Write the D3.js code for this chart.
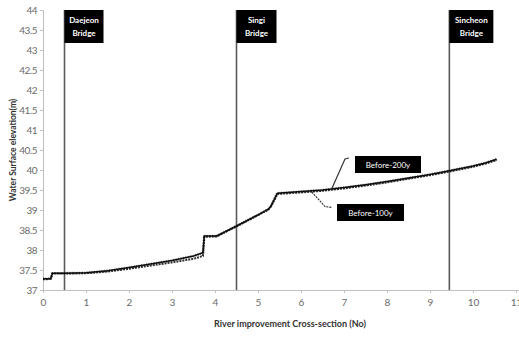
<!DOCTYPE html>
<html>
<head>
<meta charset="utf-8">
<script src="https://cdn.jsdelivr.net/npm/d3@7"></script>
<style>
  html, body { margin: 0; padding: 0; background: #fff; }
  svg { display: block; }
  text { font-family: Lato, "Open Sans", sans-serif; }
</style>
</head>
<body>
<svg id="chart" width="519" height="338"></svg>
<script>
// Cross-section positions (No) and water surface elevations (m)
const sections200 = [0, 0.1, 0.18, 0.22, 0.5, 1.0, 1.5, 2.0, 2.5, 3.0, 3.5, 3.72, 3.75, 4.04, 4.5, 5.0, 5.24, 5.3, 5.45, 6.0, 6.5, 7.0, 7.5, 8.0, 8.5, 9.0, 9.45, 10.0, 10.3, 10.55];
const before200y = [37.28, 37.28, 37.29, 37.42, 37.42, 37.43, 37.48, 37.56, 37.65, 37.74, 37.85, 37.93, 38.35, 38.35, 38.6, 38.88, 39.02, 39.1, 39.42, 39.46, 39.5, 39.56, 39.63, 39.71, 39.8, 39.89, 39.98, 40.1, 40.18, 40.27];
const sections100 = [0, 0.1, 0.18, 0.22, 0.5, 1.0, 1.5, 2.0, 2.5, 3.0, 3.5, 3.72, 3.75, 4.04, 4.5, 5.0, 5.24, 5.3, 5.45, 6.0, 6.5, 7.0, 7.5, 8.0, 8.5, 9.0, 9.45, 10.0, 10.3, 10.55];
const before100y = [37.27, 37.27, 37.28, 37.41, 37.41, 37.42, 37.46, 37.53, 37.61, 37.69, 37.78, 37.85, 38.33, 38.34, 38.59, 38.87, 39.01, 39.08, 39.4, 39.44, 39.48, 39.54, 39.61, 39.69, 39.78, 39.87, 39.96, 40.08, 40.16, 40.25];

// Bridge locations along the river
const bridgeNames = [["Daejeon", "Bridge"], ["Singi", "Bridge"], ["Sincheon", "Bridge"]];
const bridgeSections = [0.5, 4.5, 9.45];

const xTicks = [0, 1, 2, 3, 4, 5, 6, 7, 8, 9, 10, 11];
const yTicks = [37, 37.5, 38, 38.5, 39, 39.5, 40, 40.5, 41, 41.5, 42, 42.5, 43, 43.5, 44];

const svg = d3.select("#chart");
const plotLeft = 43, plotTop = 10, plotBottom = 290;

const x = d3.scaleLinear().domain([0, 12]).range([plotLeft, plotLeft + 43 * 12]);
const y = d3.scaleLinear().domain([37, 44]).range([plotBottom, plotTop]);

const axisColor = "#bfbfbf";
const labelColor = "#6b6b6b";

// Y axis
const yAxis = svg.append("g").attr("transform", `translate(${plotLeft},0)`)
  .call(d3.axisLeft(y).tickValues(yTicks).tickSize(3).tickPadding(3)
    .tickFormat(d => String(d)));
yAxis.select(".domain").attr("stroke", axisColor);
yAxis.selectAll(".tick line").attr("stroke", axisColor);
yAxis.selectAll(".tick text").attr("fill", labelColor).style("font-size", "10px")
  .style("font-family", "Lato, sans-serif").style("letter-spacing", "-0.5px");

// X axis
const xAxis = svg.append("g").attr("transform", `translate(0,${plotBottom})`)
  .call(d3.axisBottom(x).tickValues(xTicks).tickSize(3).tickPadding(6)
    .tickFormat(d => String(d)));
xAxis.select(".domain").attr("stroke", axisColor);
xAxis.selectAll(".tick line").attr("stroke", axisColor);
xAxis.selectAll(".tick text").attr("fill", labelColor).style("font-size", "10px")
  .style("font-family", "Lato, sans-serif");

// Axis titles
svg.append("text")
  .attr("x", 290).attr("y", 327)
  .attr("text-anchor", "middle")
  .attr("font-size", "9px").attr("font-weight", "bold").attr("fill", "#333")
  .text("River improvement Cross-section (No)");

svg.append("text")
  .attr("transform", "translate(16,150) rotate(-90)")
  .attr("text-anchor", "middle")
  .attr("font-size", "8.5px").attr("font-weight", "bold").attr("fill", "#333")
  .text("Water Surface elevation(m)");

// Bridge markers: vertical line with a black label box on top
const boxW = [39, 40, 44];
const bridges = svg.append("g");
bridgeSections.forEach((s, i) => {
  const bx = x(s);
  bridges.append("line")
    .attr("x1", bx).attr("x2", bx)
    .attr("y1", y(44)).attr("y2", plotBottom)
    .attr("stroke", "#5a5a5a").attr("stroke-width", 1.6);
  bridges.append("rect")
    .attr("x", bx).attr("y", y(44))
    .attr("width", boxW[i]).attr("height", 33)
    .attr("fill", "#000");
  bridgeNames[i].forEach((t, j) => {
    bridges.append("text")
      .attr("x", bx + boxW[i] / 2).attr("y", y(44) + 13 + j * 13)
      .attr("text-anchor", "middle")
      .attr("font-size", "8px").attr("font-weight", "bold").attr("fill", "#fff")
      .text(t);
  });
});

// Water surface profiles
const line = d3.line().x(d => x(d[0])).y(d => y(d[1]));
const pts100 = sections100.map((s, i) => [s, before100y[i]]);
const pts200 = sections200.map((s, i) => [s, before200y[i]]);

svg.append("path").datum(pts100)
  .attr("d", line).attr("fill", "none")
  .attr("stroke", "#333").attr("stroke-width", 2)
  .attr("stroke-dasharray", "2,1");

svg.append("path").datum(pts200)
  .attr("d", line).attr("fill", "none")
  .attr("stroke", "#111").attr("stroke-width", 1.5);

svg.append("path").datum(pts200)
  .attr("d", line).attr("fill", "none")
  .attr("stroke", "#000").attr("stroke-width", 2.6)
  .attr("stroke-dasharray", "1,1.5").attr("opacity", 0.5);

// Series callouts
const callouts = svg.append("g");
// Before-200y
callouts.append("polyline")
  .attr("points", `${x(6.71)},${y(39.52)} 345,159 349,158`)
  .attr("fill", "none").attr("stroke", "#333").attr("stroke-width", 1.2);
callouts.append("rect").attr("x", 355).attr("y", 156).attr("width", 66).attr("height", 17).attr("fill", "#000");
callouts.append("text").attr("x", 388).attr("y", 167.5).attr("text-anchor", "middle")
  .attr("font-size", "8px").attr("fill", "#fff").text("Before-200y");
// Before-100y
callouts.append("polyline")
  .attr("points", `${x(6.25)},${y(39.45)} 325,206.5 332,207.5`)
  .attr("fill", "none").attr("stroke", "#333").attr("stroke-width", 1.2)
  .attr("stroke-dasharray", "2,1");
callouts.append("rect").attr("x", 337).attr("y", 204).attr("width", 67).attr("height", 17).attr("fill", "#000");
callouts.append("text").attr("x", 370.5).attr("y", 215.5).attr("text-anchor", "middle")
  .attr("font-size", "8px").attr("fill", "#fff").text("Before-100y");
</script>
</body>
</html>
